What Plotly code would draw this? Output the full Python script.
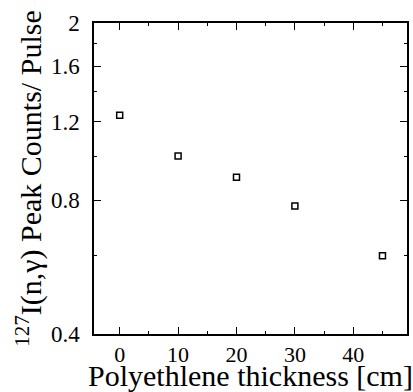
import math
import plotly.graph_objects as go

thickness_cm = [0, 10, 20, 30, 45]
peak_counts_per_pulse = [1.24, 1.005, 0.90, 0.776, 0.600]

y_tick_vals = [0.4, 0.8, 1.2, 1.6, 2.0]
y_tick_text = ["0.4", "0.8", "1.2", "1.6", "2"]
y_minor_vals = [0.6, 1.0, 1.4, 1.8]
x_tick_vals = [0, 10, 20, 30, 40]

FONT = "Times New Roman"

fig = go.Figure()
fig.add_trace(go.Scatter(
    x=thickness_cm, y=peak_counts_per_pulse, mode="markers",
    marker=dict(symbol="square-open", size=6, color="black", line=dict(width=1.5, color="black")),
    showlegend=False,
))

fig.update_layout(
    width=413, height=392,
    margin=dict(l=94, r=6, t=23, b=58),
    paper_bgcolor="white", plot_bgcolor="white",
    font=dict(family=FONT, color="black"),
)
fig.update_xaxes(
    range=[-4.4, 49.2], tickvals=x_tick_vals, automargin=False,
    ticks="inside", ticklen=7, tickwidth=1.3, tickcolor="black",
    showline=True, linecolor="black", linewidth=1.5, mirror="ticks",
    showgrid=False, zeroline=False,
    tickfont=dict(family=FONT, size=22, color="black"),
    ticklabelstandoff=0,
    minor=dict(tickvals=[5, 15, 25, 35, 45], ticks="inside", ticklen=3.5, tickwidth=1.3, tickcolor="black", showgrid=False),
    title=dict(text="Polyethlene thickness [cm]", font=dict(family=FONT, size=30, color="black"), standoff=4),
)
fig.update_yaxes(
    type="log", range=[math.log10(0.4), math.log10(2.0)], automargin=False,
    tickvals=y_tick_vals, ticktext=y_tick_text,
    ticks="inside", ticklen=7, tickwidth=1.3, tickcolor="black",
    showline=True, linecolor="black", linewidth=1.5, mirror="ticks",
    showgrid=False, zeroline=False,
    tickfont=dict(family=FONT, size=23, color="black"),
    ticklabelstandoff=8,
    minor=dict(tickvals=y_minor_vals, ticks="inside", ticklen=3.5, tickwidth=1.3, tickcolor="black", showgrid=False),
    title=dict(text="<sup>127</sup>I(n,γ) Peak Counts/ Pulse", font=dict(family=FONT, size=30, color="black"), standoff=0),
)

fig.write_html("out.html")
